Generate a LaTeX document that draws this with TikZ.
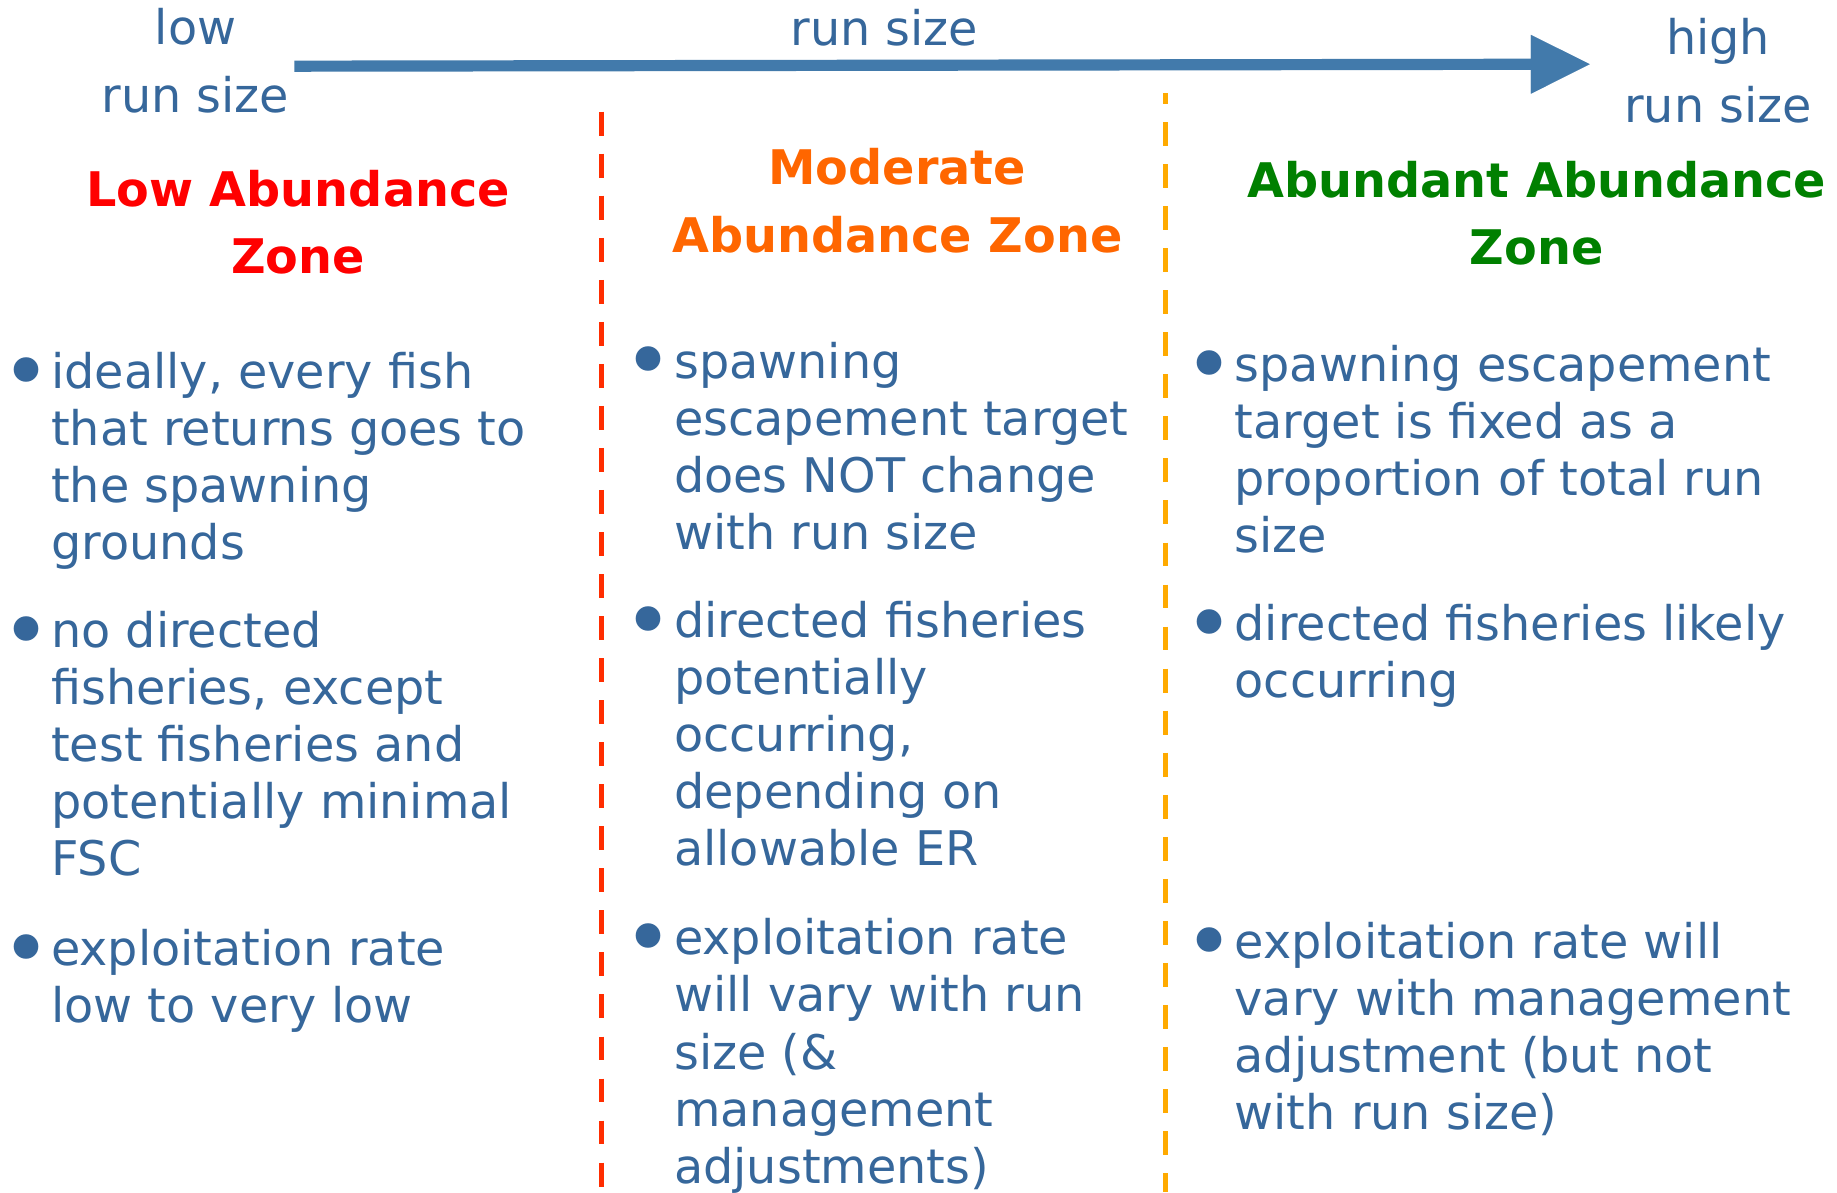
\documentclass[tikz,border=0pt]{standalone}
\usepackage{fontspec}
\setmainfont{DejaVu Sans}
\usetikzlibrary{arrows.meta}
\definecolor{txtblue}{RGB}{54,103,155}
\definecolor{arrblue}{RGB}{66,122,171}
\definecolor{hred}{RGB}{255,0,0}
\definecolor{horange}{RGB}{255,102,0}
\definecolor{hgreen}{RGB}{0,128,0}
\definecolor{dred}{RGB}{255,45,0}
\definecolor{dorange}{RGB}{255,170,0}
\begin{document}
\begin{tikzpicture}[x=1pt,y=-1pt,
  body/.style={font=\fontsize{40.5}{48.5}\selectfont, text=txtblue,
    inner sep=0pt, outer sep=0pt, anchor=north west, align=left},
  bul/.style={font=\fontsize{72}{72}\selectfont, text=txtblue,
    inner sep=0pt, outer sep=0pt, anchor=base},
  toplbl/.style={font=\fontsize{40.5}{57.5}\selectfont, text=txtblue,
    inner sep=0pt, outer sep=0pt, anchor=north, align=center},
  head/.style={font=\bfseries\fontsize{40.5}{57}\selectfont,
    inner sep=0pt, outer sep=0pt, anchor=north, align=center},
  divider/.style={line width=4.5pt, dash pattern=on 20.3pt off 15.4pt}
]
\fill[white] (0,0) rectangle (1560,1012.3);
\useasboundingbox (0,0) rectangle (1560,1012.3);

% run-size axis
\coordinate (arrS) at (250,56.2);
\coordinate (arrE) at (1350,54.5);
\draw[arrblue, line width=9.5pt,
  -{Triangle[length=50pt,width=50pt,line width=0.01pt]}] (arrS) -- (arrE);
\node[toplbl] (lowlbl) at (166,-2.05) {\strut low\\run size};
\node[toplbl] (midlbl) at (751,-1.75) {\strut run size};
\node[toplbl] (highlbl) at (1459,6.45) {\strut high\\run size};

% dividers
\coordinate (rT) at (511,94.8);
\coordinate (rB) at (511,1012.3);
\coordinate (oT) at (990,79.2);
\coordinate (oB) at (990,1012.3);
\draw[divider, dred] (rT) -- (rB);
\draw[divider, dorange, dash phase=11.2pt] (oT) -- (oB);

% headings
\node[head, text=hred] (hlow) at (253,135.1) {\strut Low Abundance\\Zone};
\node[head, text=horange] (hmod) at (762,117.1) {\strut Moderate\\Abundance Zone};
\node[head, text=hgreen] (habu) at (1305,128.1) {\strut Abundant Abundance\\Zone};

% left column
\node[bul] (lb1) at (22.6,340.8) {•};
\node[body] (lt1) at (43.5,295.85) {\strut ideally, every fish\\that returns goes to\\the spawning\\grounds};
\node[bul] (lb2) at (22.6,560.8) {•};
\node[body] (lt2) at (43.5,515.85) {\strut no directed\\fisheries, except\\test fisheries and\\potentially minimal\\FSC};
\node[bul] (lb3) at (22.6,831) {•};
\node[body] (lt3) at (43.5,786.05) {\strut exploitation rate\\low to very low};

% middle column
\node[bul] (mb1) at (551,332) {•};
\node[body] (mt1) at (572.5,287.05) {\strut spawning\\escapement target\\does NOT change\\with run size};
\node[bul] (mb2) at (551,552) {•};
\node[body] (mt2) at (572.5,507.05) {\strut directed fisheries\\potentially\\occurring,\\depending on\\allowable ER};
\node[bul] (mb3) at (551,821.8) {•};
\node[body] (mt3) at (572.5,776.85) {\strut exploitation rate\\will vary with run\\size (\&\\management\\adjustments)};

% right column
\node[bul] (rb1) at (1027,335) {•};
\node[body] (rt1) at (1048.5,290.05) {\strut spawning escapement\\target is fixed as a\\proportion of total run\\size};
\node[bul] (rb2) at (1027,554.7) {•};
\node[body] (rt2) at (1048.5,509.75) {\strut directed fisheries likely\\occurring};
\node[bul] (rb3) at (1027,825) {•};
\node[body] (rt3) at (1048.5,780.05) {\strut exploitation rate will\\vary with management\\adjustment (but not\\with run size)};
\end{tikzpicture}
\end{document}
